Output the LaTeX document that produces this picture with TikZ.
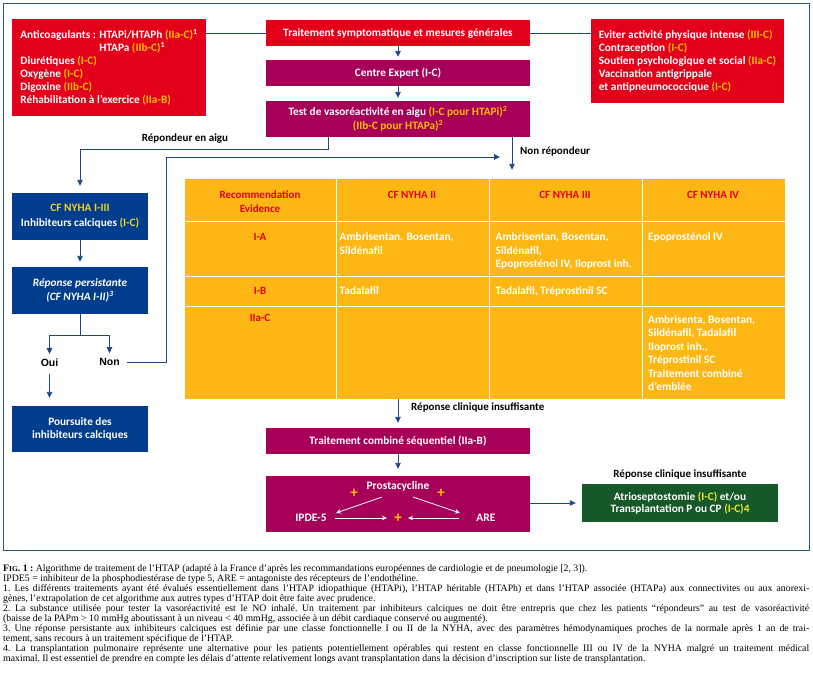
\documentclass[tikz,border=0pt]{standalone}
\usepackage{fontspec}
\setmainfont{Carlito}
\newfontfamily\capfont{Liberation Serif}
\newfontfamily\helv{Liberation Sans}
\usetikzlibrary{arrows.meta}
\definecolor{cred}{RGB}{226,0,26}
\definecolor{cpurple}{RGB}{166,0,88}
\definecolor{cbluebox}{RGB}{0,61,140}
\definecolor{corange}{RGB}{253,183,20}
\definecolor{cgreen}{RGB}{22,88,40}
\definecolor{cyo}{RGB}{255,190,0}
\definecolor{cyb}{RGB}{240,210,40}
\definecolor{cyg}{RGB}{230,230,60}
\definecolor{carrow}{RGB}{30,70,140}
\definecolor{cframe}{RGB}{40,90,130}
\definecolor{cplus}{RGB}{255,200,0}
\newcommand\yo[1]{\textcolor{cyo}{#1}}
\newcommand\fstrut{\rule{0pt}{9pt}}
\tikzset{
  box/.style={draw=none, inner sep=0pt, text=white, font=\bfseries\fontsize{11.3}{13}\selectfont, align=center},
  redbox/.style={box, fill=cred},
  purpbox/.style={box, fill=cpurple},
  bluebox/.style={box, fill=cbluebox, minimum width=136pt},
  greenbox/.style={box, fill=cgreen, font=\bfseries\fontsize{11.3}{12.5}\selectfont},
  lbl/.style={inner sep=1pt, text=black, font=\bfseries\fontsize{11}{12}\selectfont},
  ouinon/.style={inner sep=1pt, text=black, font=\helv\bfseries\fontsize{10.5}{11}\selectfont},
  thead/.style={inner sep=0pt, text=cred, font=\bfseries\fontsize{11}{14}\selectfont, align=center},
  tcell/.style={inner sep=0pt, text=white, anchor=north west, font=\bfseries\fontsize{11.3}{13.5}\selectfont, align=left},
  plus/.style={inner sep=0pt, text=cplus, font=\bfseries\fontsize{15}{15}\selectfont},
  wlbl/.style={inner sep=1pt, text=white, font=\bfseries\fontsize{11.5}{12}\selectfont},
  conn/.style={draw=carrow, line width=0.9pt},
  arr/.style={conn, -{Triangle[length=6pt,width=5.5pt]}, shorten >=4pt},
  warr/.style={draw=white, line width=0.8pt, -{Stealth[length=5pt,width=4.5pt]}},
  capl/.style={inner sep=0pt, anchor=base west, font=\capfont\fontsize{9.8}{10}\selectfont\frenchspacing},
}
\begin{document}
\begin{tikzpicture}[x=1pt,y=-1pt]
\useasboundingbox (0,0) rectangle (813,691);
\fill[white] (0,0) rectangle (813,691);
\draw[cframe, line width=1pt] (3,3) rectangle (809,550);

% top boxes
\node[redbox, minimum width=194pt, minimum height=97pt, align=left] (anti) at (109,67.5)
 {Anticoagulants : HTAPi/HTAPh \yo{(IIa-C)}\textsuperscript{1}\\
  \phantom{Anticoagulants : }HTAPa \yo{(IIb-C)}\textsuperscript{1}\\
  Diurétiques \yo{(I-C)}\\ Oxygène \yo{(I-C)}\\ Digoxine \yo{(IIb-C)}\\
  Réhabilitation à l’exercice \yo{(IIa-B)}};
\node[redbox, minimum width=264pt, minimum height=26pt] (symp) at (398,33) {Traitement symptomatique et mesures générales};
\node[purpbox, minimum width=264pt, minimum height=26pt] (centre) at (398,73) {Centre Expert (I-C)};
\node[purpbox, minimum width=264pt, minimum height=36pt, font=\bfseries\fontsize{11.3}{14}\selectfont] (test) at (398,119)
 {Test de vasoréactivité en aigu \yo{(I-C pour HTAPi)\textsuperscript{2}}\\ \yo{(IIb-C pour HTAPa)\textsuperscript{2}}};
\node[redbox, minimum width=193pt, minimum height=84pt, align=left] (rbox) at (687.5,61)
 {Eviter activité physique intense \yo{(III-C)}\\ Contraception \yo{(I-C)}\\
  Soutien psychologique et social \yo{(IIa-C)}\\ Vaccination antigrippale\\
  et antipneumococcique \yo{(I-C)}};

% labels
\node[lbl] (rep) at (185,139) {Répondeur en aigu};
\node[lbl, anchor=west] (nonrep) at (519,152) {Non répondeur};
\node[lbl, anchor=west] (rci) at (410,407) {Réponse clinique insuffisante};
\node[lbl] (rci2) at (680,474) {Réponse clinique insuffisante};

% left column
\node[bluebox, minimum height=47pt, font=\bfseries\fontsize{11.3}{15}\selectfont] (nyha) at (80,216.5)
 {\textcolor{cyb}{CF NYHA I-III}\\ Inhibiteurs calciques \textcolor{cyb}{(I-C)}};
\node[bluebox, minimum height=47pt, font=\bfseries\itshape\fontsize{11.3}{14}\selectfont] (persist) at (80,290.5)
 {Réponse persistante\\ (CF NYHA I-II)\textsuperscript{3}};
\node[ouinon] (oui) at (49.5,363) {Oui};
\node[ouinon] (non) at (109.5,362) {Non};
\node[bluebox, minimum height=46pt] (pours) at (80,429) {Poursuite des\\ inhibiteurs calciques};

% table
\node[fill=corange, minimum width=600pt, minimum height=220pt, inner sep=0pt] (tbl) at (485,289) {};
\draw[white, line width=1pt] (336,179) -- (336,399) (489,179) -- (489,399) (642,179) -- (642,399)
  (185,221) -- (785,221) (185,276) -- (785,276) (185,306) -- (785,306);
\node[thead] (h1) at (260,202) {Recommendation\\ Evidence};
\node[thead] (h2) at (412,195) {CF NYHA II};
\node[thead] (h3) at (565,195) {CF NYHA III};
\node[thead] (h4) at (713,195) {CF NYHA IV};
\node[thead] (r1) at (260,237) {I-A};
\node[thead] (r2) at (260,291) {I-B};
\node[thead] (r3) at (260,318) {IIa-C};
\node[tcell] (c22) at (339.5,231.5) {\fstrut Ambrisentan. Bosentan,\\ Sildénafil};
\node[tcell] (c23) at (495.5,231.5) {\fstrut Ambrisentan, Bosentan,\\ Sildénafil,\\ Epoprosténol IV, Iloprost inh.};
\node[tcell] (c24) at (648,231.5) {\fstrut Epoprosténol IV};
\node[tcell] (c32) at (339.5,285.5) {\fstrut Tadalafil};
\node[tcell] (c33) at (495.5,285.5) {\fstrut Tadalafil, Tréprostinil SC};
\node[tcell] (c44) at (648,314) {\fstrut Ambrisenta, Bosentan,\\ Sildénafil, Tadalafil\\ Iloprost inh.,\\ Tréprostinil SC\\ Traitement combiné\\ d’emblée};

% bottom boxes
\node[purpbox, minimum width=264pt, minimum height=26pt] (combo) at (398,441) {Traitement combiné séquentiel (IIa-B)};
\node[purpbox, minimum width=264pt, minimum height=56pt] (prost) at (398,504) {};
\node[greenbox, minimum width=196pt, minimum height=38pt] (green) at (680,503)
 {Atrioseptostomie \textcolor{cyg}{(I-C)} et/ou\\ Transplantation P ou CP \textcolor{cyg}{(I-C)4}};
\node[wlbl] (pro) at (398,486) {Prostacycline};
\node[wlbl] (ipde) at (311,518) {IPDE-5};
\node[wlbl] (are) at (486,518) {ARE};
\node[plus] (pl1) at (354,493) {+};
\node[plus] (pl2) at (441,493) {+};
\node[plus] (pl3) at (398,518) {+};

% connectors
\draw[conn] (symp.west -| anti.east) -- (symp.west);
\draw[conn] (symp.east) -- (symp.east -| rbox.west);
\draw[arr, shorten >=3pt] (symp) -- (centre);
\draw[arr, shorten >=3pt] (centre) -- (test);
\coordinate (k1) at (328,149);
\draw[arr, shorten >=7pt] (test.south -| k1) -- (k1) -| (nyha.north);
\coordinate (k4) at (512,0);
\draw[arr, shorten >=9pt] (test.south -| k4) -- (tbl.north -| k4);
\coordinate (k2) at (166,157);
\coordinate (k3) at (500,157);
\draw[arr, shorten >=0pt, shorten <=6pt] (non.east) -| (k2) -- (k3);
\draw[arr, shorten >=5pt] (nyha) -- (persist);
\coordinate (k5) at (80,335);
\draw[conn] (persist.south) -- (k5);
\draw[arr, shorten >=4pt] (k5) -| (oui.north);
\draw[arr, shorten >=4pt] (k5) -| (non.north);
\draw[arr, shorten <=6pt, shorten >=8pt] (oui.south) -- (oui.south |- pours.north);
\draw[arr, shorten >=5pt] (combo.north |- tbl.south) -- (combo.north);
\draw[arr, shorten >=7pt] (combo) -- (prost);
\draw[arr, shorten >=6pt] (prost.east |- green.west) -- (green.west);
\draw[warr] ([shift={(-16,11)}]pro.center) -- ([shift={(25,-5)}]ipde.center);
\draw[warr] ([shift={(15,11)}]pro.center) -- ([shift={(-26,-5)}]are.center);
\draw[warr] ([shift={(24,0)}]ipde.center) -- ([shift={(-11,0)}]pl3.center);
\draw[warr] ([shift={(-27,0)}]are.center) -- ([shift={(10,0)}]pl3.center);

% caption
\node[capl] (cap1) at (3,571) {{\bfseries F{\fontsize{7.5}{8}\selectfont IG}. 1 :} Algorithme de traitement de l’HTAP (adapté à la France d’après les recommandations européennes de cardiologie et de pneumologie [2, 3]).};
\node[capl] (cap2) at (3,581) {IPDE5 = inhibiteur de la phosphodiestérase de type 5, ARE = antagoniste des récepteurs de l’endothéline.};
\node[capl] (cap3) at (3,591) {\makebox[806pt][s]{1. Les différents traitements ayant été évalués essentiellement dans l’HTAP idiopathique (HTAPi), l’HTAP héritable (HTAPh) et dans l’HTAP associée (HTAPa) aux connectivites ou aux anorexi-}};
\node[capl] (cap4) at (3,601) {gènes, l’extrapolation de cet algorithme aux autres types d’HTAP doit être faite avec prudence.};
\node[capl] (cap5) at (3,611) {\makebox[806pt][s]{2. La substance utilisée pour tester la vasoréactivité est le NO inhalé. Un traitement par inhibiteurs calciques ne doit être entrepris que chez les patients “répondeurs” au test de vasoréactivité}};
\node[capl] (cap6) at (3,621) {(baisse de la PAPm > 10 mmHg aboutissant à un niveau < 40 mmHg, associée à un débit cardiaque conservé ou augmenté).};
\node[capl] (cap7) at (3,631) {\makebox[806pt][s]{3. Une réponse persistante aux inhibiteurs calciques est définie par une classe fonctionnelle I ou II de la NYHA, avec des paramètres hémodynamiques proches de la normale après 1 an de trai-}};
\node[capl] (cap8) at (3,641) {tement, sans recours à un traitement spécifique de l’HTAP.};
\node[capl] (cap9) at (3,651) {\makebox[806pt][s]{4. La transplantation pulmonaire représente une alternative pour les patients potentiellement opérables qui restent en classe fonctionnelle III ou IV de la NYHA malgré un traitement médical}};
\node[capl] (cap10) at (3,661) {maximal. Il est essentiel de prendre en compte les délais d’attente relativement longs avant transplantation dans la décision d’inscription sur liste de transplantation.};
\end{tikzpicture}
\end{document}
